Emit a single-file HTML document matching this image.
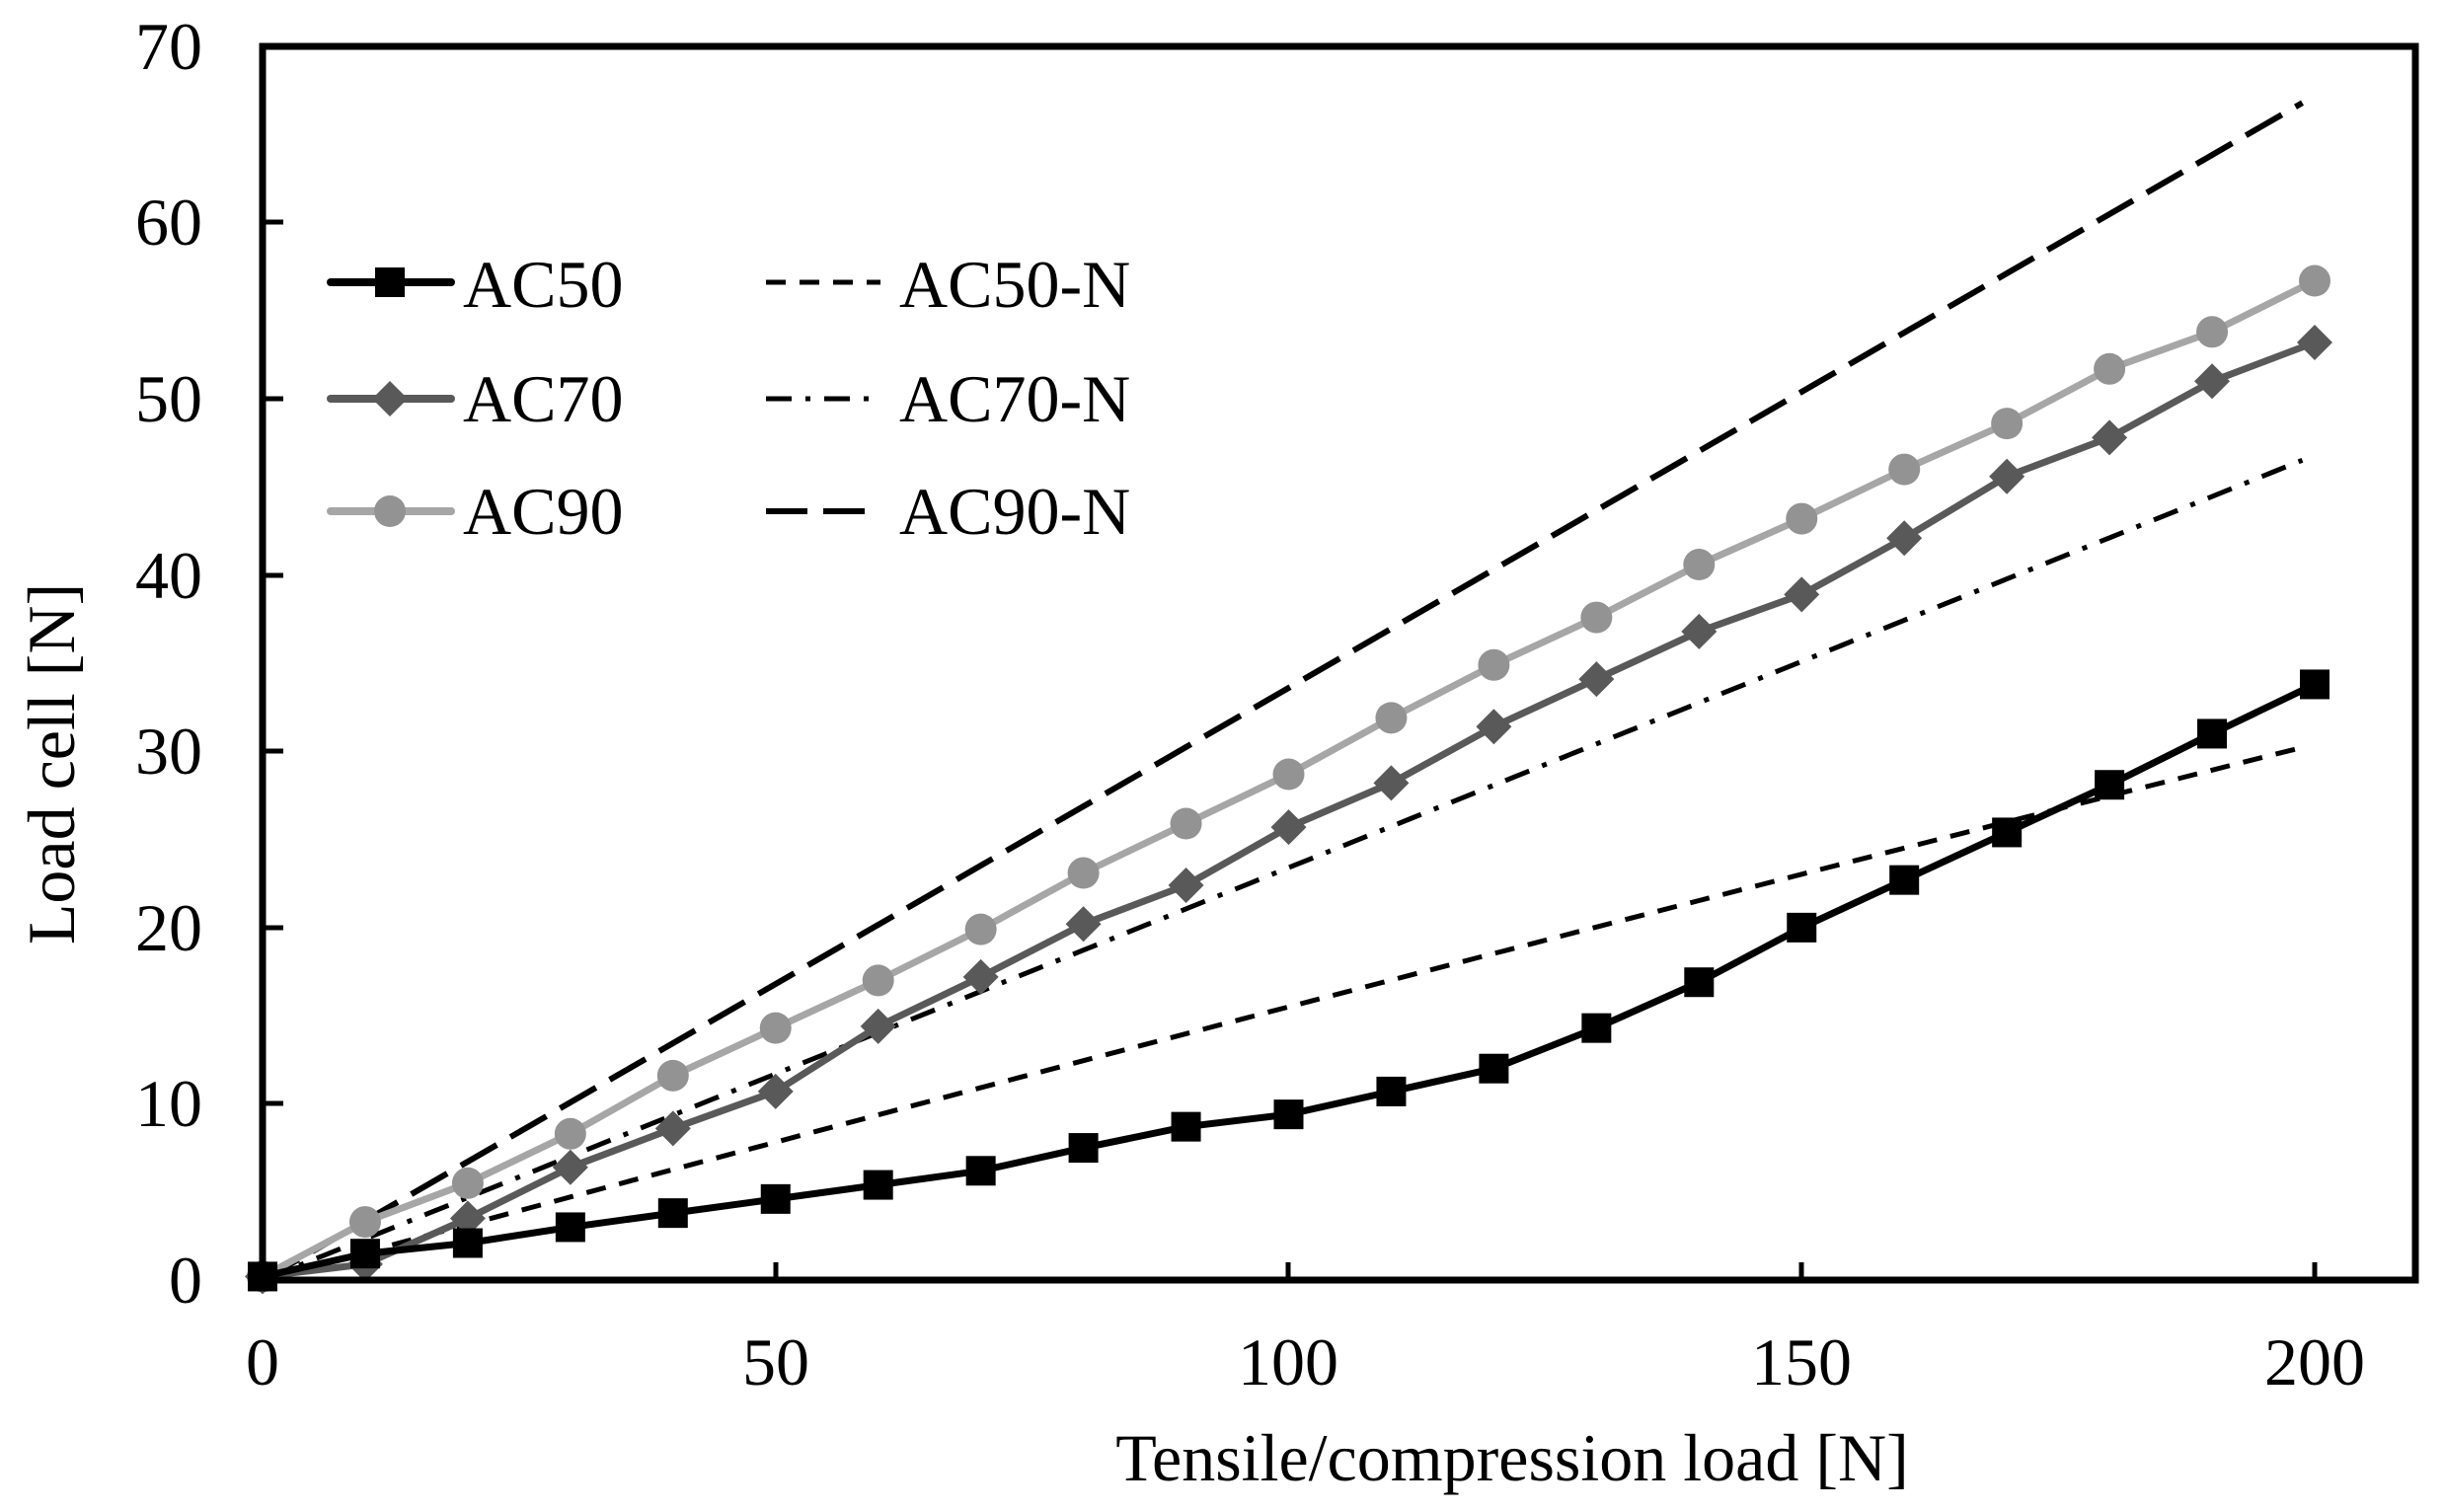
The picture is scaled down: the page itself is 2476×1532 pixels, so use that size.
<!DOCTYPE html>
<html><head><meta charset="utf-8"><style>
html,body{margin:0;padding:0;background:#fff;}
svg{display:block;}
text{font-family:"Liberation Serif",serif;font-size:68px;fill:#000;}
</style></head><body>
<svg id="s" width="2476" height="1532" viewBox="0 0 2476 1532" xmlns="http://www.w3.org/2000/svg">
<rect x="0" y="0" width="2476" height="1532" fill="#fff"/>
<g id="series"></g>
<rect x="266" y="47" width="2181" height="1250" fill="none" stroke="#000" stroke-width="7"/>
<g stroke="#000" stroke-width="5">
<line x1="266" y1="225" x2="287" y2="225"/><line x1="266" y1="404" x2="287" y2="404"/><line x1="266" y1="583" x2="287" y2="583"/><line x1="266" y1="761" x2="287" y2="761"/><line x1="266" y1="940" x2="287" y2="940"/><line x1="266" y1="1118" x2="287" y2="1118"/>
<line x1="786" y1="1297" x2="786" y2="1279"/><line x1="1305" y1="1297" x2="1305" y2="1279"/><line x1="1825" y1="1297" x2="1825" y2="1279"/><line x1="2345" y1="1297" x2="2345" y2="1279"/>
</g>
<g text-anchor="end">
<text x="205" y="70">70</text><text x="205" y="248">60</text><text x="205" y="427">50</text><text x="205" y="606">40</text><text x="205" y="784">30</text><text x="205" y="963">20</text><text x="205" y="1141">10</text><text x="205" y="1320">0</text>
</g>
<g text-anchor="middle">
<text x="266" y="1403">0</text><text x="786" y="1403">50</text><text x="1305" y="1403">100</text><text x="1825" y="1403">150</text><text x="2345" y="1403">200</text>
<text x="1532" y="1500">Tensile/compression load [N]</text>
<text transform="translate(75,774) rotate(-90)">Load cell [N]</text>
</g>
<g>
<line x1="335" y1="286" x2="457" y2="286" stroke="#000" stroke-width="8" stroke-linecap="round"/>
<rect x="380" y="271" width="30" height="30" fill="#000"/>
<text x="469" y="311">AC50</text>
<line x1="335" y1="404" x2="457" y2="404" stroke="#595959" stroke-width="8" stroke-linecap="round"/>
<polygon points="395,386 413,404 395,422 377,404" fill="#595959"/>
<text x="469" y="427">AC70</text>
<line x1="335" y1="518" x2="457" y2="518" stroke="#a6a6a6" stroke-width="8" stroke-linecap="round"/>
<circle cx="395" cy="518" r="16" fill="#939393"/>
<text x="469" y="541">AC90</text>
<line x1="776" y1="286" x2="892" y2="286" stroke="#000" stroke-width="5" stroke-dasharray="20,14"/>
<text x="911" y="311">AC50-N</text>
<line x1="776" y1="404" x2="892" y2="404" stroke="#000" stroke-width="5" stroke-dasharray="26,14,5,14"/>
<text x="911" y="427">AC70-N</text>
<line x1="776" y1="518" x2="892" y2="518" stroke="#000" stroke-width="6" stroke-dasharray="42,16"/>
<text x="911" y="541">AC90-N</text>
</g>
</svg>
<script>
(function(){
var X=function(v){return 266+v*10.395;},Y=function(v){return 1297-v*17.857;};
var g=document.getElementById('series'),NS='http://www.w3.org/2000/svg';
function el(t,a){var e=document.createElementNS(NS,t);for(var k in a)e.setAttribute(k,a[k]);g.appendChild(e);return e;}
function curve(f,dash,w){var p=[];for(var x=0;x<=198;x+=2)p.push(X(x).toFixed(1)+','+Y(f(x)).toFixed(1));p.push(X(198.8).toFixed(1)+','+Y(f(198.8)).toFixed(1));el('polyline',{points:p.join(' '),fill:'none',stroke:'#000','stroke-width':w,'stroke-dasharray':dash});}
curve(function(x){return 0.158*x-0.00003*x*x;},'20,14',5);
curve(function(x){return 0.234*x;},'26,14,5,14',5);
curve(function(x){return 0.336*x;},'42,16',6);
var a50=[0.2,1.5,2.1,3.0,3.8,4.6,5.4,6.2,7.5,8.7,9.4,10.7,12.0,14.3,16.9,20.0,22.7,25.4,28.1,31.0,33.8];
var a70=[0.2,0.9,3.5,6.4,8.6,10.7,14.4,17.2,20.2,22.4,25.7,28.2,31.4,34.1,36.8,38.9,42.1,45.6,47.8,51.0,53.2];
var a90=[0.2,3.3,5.5,8.3,11.6,14.3,17.0,19.9,23.1,25.9,28.7,31.9,34.9,37.6,40.6,43.2,46.0,48.6,51.7,53.8,56.7];
function ser(d,lc,mc,m){var p=d.map(function(v,i){return X(i*10).toFixed(1)+','+Y(v).toFixed(1);});
el('polyline',{points:p.join(' '),fill:'none',stroke:lc,'stroke-width':7,'stroke-linejoin':'round'});
d.forEach(function(v,i){var x=X(i*10),y=Y(v);
if(m=='s')el('rect',{x:x-15,y:y-15,width:30,height:30,fill:mc});
else if(m=='d')el('polygon',{points:(x)+','+(y-18)+' '+(x+18)+','+y+' '+x+','+(y+18)+' '+(x-18)+','+y,fill:mc});
else el('circle',{cx:x,cy:y,r:16,fill:mc});});}
ser(a90,'#a6a6a6','#939393','c');
ser(a70,'#595959','#595959','d');
ser(a50,'#000','#000','s');
})();
</script>
</body></html>
